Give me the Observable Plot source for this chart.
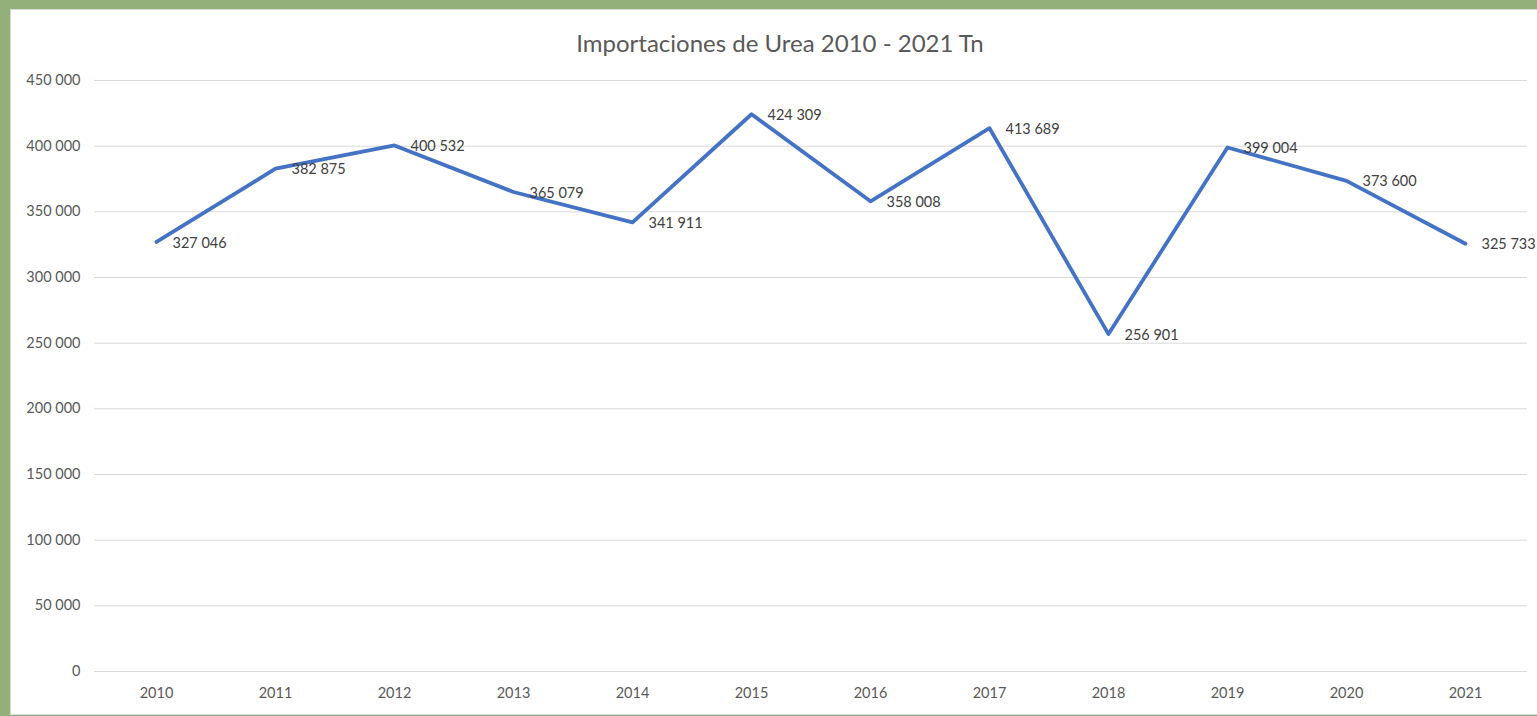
<!DOCTYPE html>
<html>
<head>
<meta charset="utf-8">
<script src="https://cdn.jsdelivr.net/npm/d3@7"></script>
<script src="https://cdn.jsdelivr.net/npm/@observablehq/plot@0.6"></script>
<style>
  html, body { margin: 0; padding: 0; width: 1537px; height: 716px; overflow: hidden; background: #93b07a; font-family: Lato, "Open Sans", sans-serif; }
  #panel { position: absolute; left: 10px; top: 9px; width: 1545px; height: 706px; background: #fff; border: 1px solid #d9d9d9; box-sizing: border-box; }
  #title { position: absolute; left: 0; top: 29px; width: 1560px; text-align: center; font-size: 24px; color: #595959; line-height: 28px; }
  #chart { position: absolute; left: 0; top: 0; width: 1537px; height: 716px; }
  #err { position: absolute; left: 100px; top: 300px; color: red; font-size: 14px; }
</style>
</head>
<body>
<div id="panel"></div>
<div id="title">Importaciones de Urea 2010 - 2021 Tn</div>
<div id="chart"></div>
<div id="err"></div>
<script>
const years = ["2010","2011","2012","2013","2014","2015","2016","2017","2018","2019","2020","2021"];
const imports = [327046, 382875, 400532, 365079, 341911, 424309, 358008, 413689, 256901, 399004, 373600, 325733];
const yTicks = [0, 50000, 100000, 150000, 200000, 250000, 300000, 350000, 400000, 450000];

try {
  const data = years.map((y, i) => ({year: y, value: imports[i]}));
  const fmt = d3.formatLocale({thousands: " ", grouping: [3], decimal: ",", currency: ["", ""]}).format(",");

  const chart = Plot.plot({
    width: 1537,
    height: 716,
    marginLeft: 94,
    marginRight: 10,
    marginTop: 80,
    marginBottom: 45,
    style: {fontFamily: "Lato, 'Open Sans', sans-serif", fontSize: "14.5px", color: "#595959", background: "transparent", overflow: "visible"},
    x: {type: "point", domain: years, padding: 0.5, label: null},
    y: {domain: [0, 450000], label: null},
    marks: [
      Plot.gridY(yTicks, {stroke: "#d9d9d9", strokeOpacity: 1, strokeWidth: 1}),
      Plot.axisY(yTicks, {tickSize: 0, tickPadding: 14, tickFormat: fmt, fill: "#595959", fontSize: 14.5}),
      Plot.axisX(years, {tickSize: 0, tickPadding: 16, fill: "#595959", fontSize: 14.5}),
      Plot.line(data, {x: "year", y: "value", stroke: "#4472C4", strokeWidth: 3.8, strokeLinejoin: "round", strokeLinecap: "round"}),
      Plot.text(data, {x: "year", y: "value", text: d => fmt(d.value), textAnchor: "start", dx: 16, dy: 1, fill: "#404040", fontSize: 14.5})
    ]
  });
  document.getElementById("chart").appendChild(chart);
} catch (e) {
  document.getElementById("err").textContent = String(e && e.stack || e);
}
</script>
</body>
</html>
